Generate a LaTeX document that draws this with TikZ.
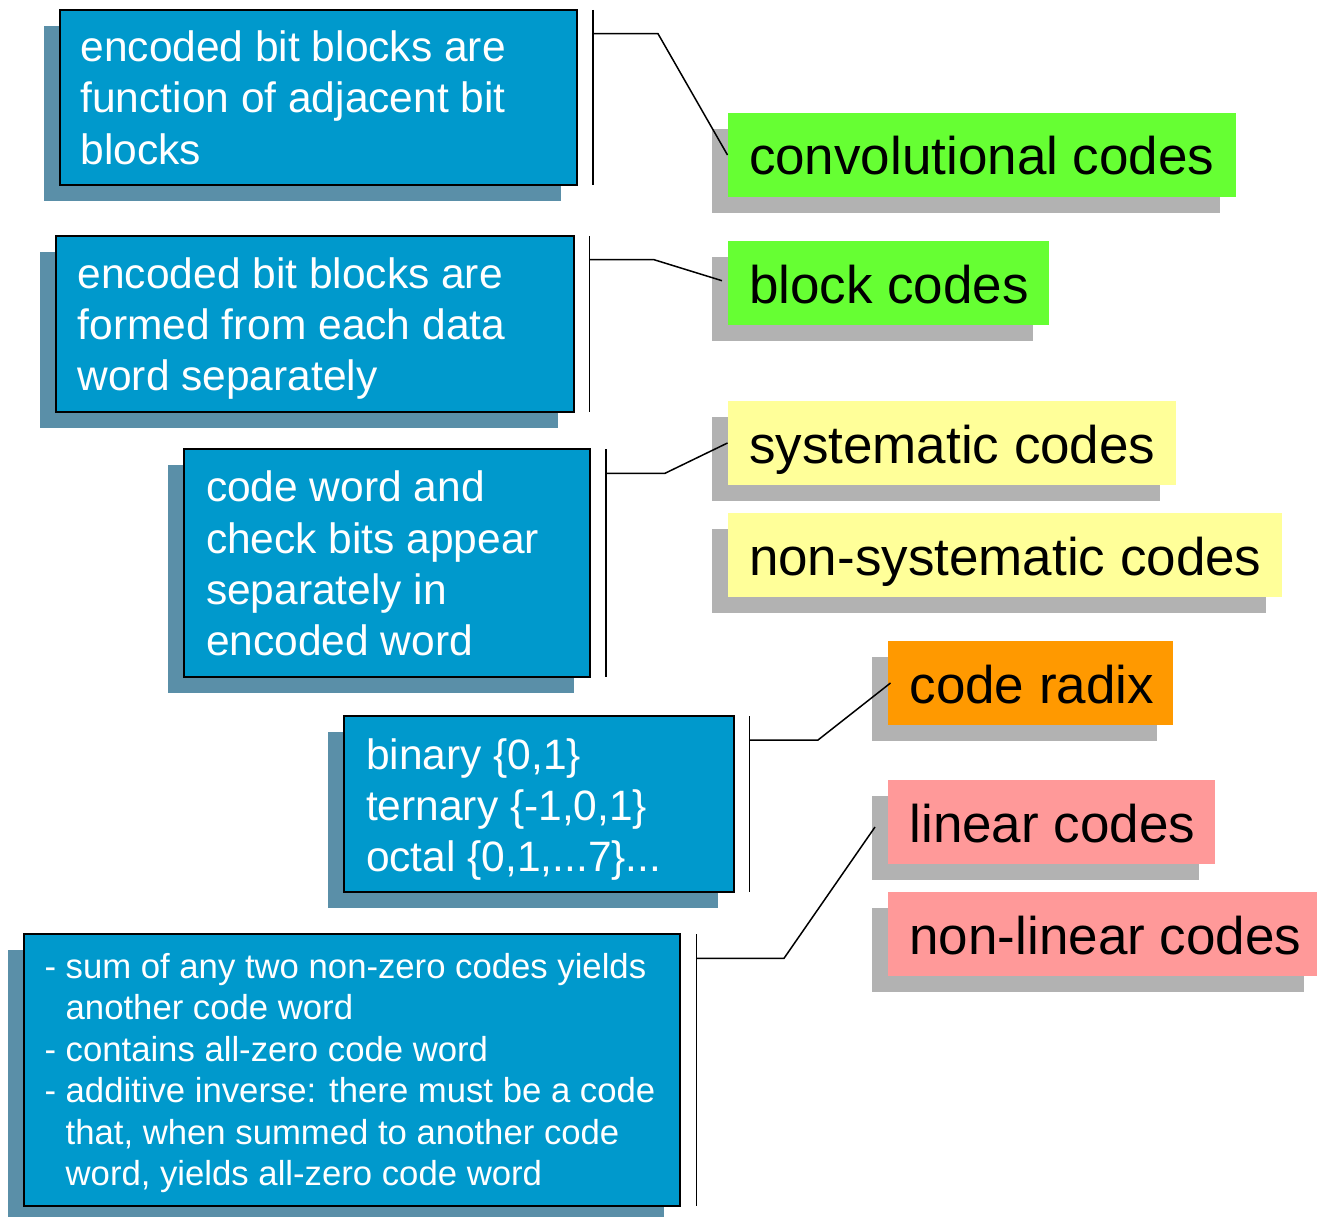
\documentclass[tikz,border=0pt]{standalone}
\usepackage{fontspec}
\setmainfont{Liberation Sans}
\usetikzlibrary{shadows}
\definecolor{boxblue}{HTML}{0099CC}
\definecolor{shblue}{HTML}{5A8FA8}
\definecolor{shgray}{HTML}{B2B2B2}
\definecolor{lgreen}{HTML}{66FF33}
\definecolor{lyellow}{HTML}{FFFF99}
\definecolor{lorange}{HTML}{FF9900}
\definecolor{lpink}{HTML}{FF9999}
\tikzset{
  infobox/.style={draw=black, line width=2pt, fill=boxblue, text=white, anchor=north west,
    inner ysep=0pt, outer sep=0pt,
    general shadow={shadow xshift=-16pt, shadow yshift=-16pt, fill=shblue}},
  labelbox/.style={fill=#1, draw=none, text=black, anchor=north west, inner ysep=0pt,
    inner xsep=21.5pt, outer sep=0pt, text height=62pt, text depth=22pt,
    font=\fontsize{53}{60}\selectfont,
    general shadow={shadow xshift=-16pt, shadow yshift=-16pt, fill=shgray}},
  bracket/.style={draw=black, line width=1.5pt},
}
\newcommand{\bigtxt}{\fontsize{42.5}{51.3}\selectfont}
\newcommand{\smalltxt}{\fontsize{34.7}{41.5}\selectfont}
\begin{document}
\begin{tikzpicture}[x=1pt,y=-1pt]
\useasboundingbox (0,0) rectangle (1317,1217);

% info boxes
\node[infobox, inner xsep=20.5pt, text height=51.7pt, text depth=123.3pt] (b1) at (60,10)
  {\parbox[t]{476pt}{\bigtxt\mbox{encoded bit blocks are}\\\mbox{function of adjacent bit}\\\mbox{blocks}}};
\node[infobox, inner xsep=21.6pt, text height=52.3pt, text depth=123.7pt] (b2) at (56,236)
  {\parbox[t]{474.8pt}{\bigtxt\mbox{encoded bit blocks are}\\\mbox{formed from each data}\\\mbox{word separately}}};
\node[infobox, inner xsep=22pt, text height=52.7pt, text depth=175.3pt] (b3) at (184,449)
  {\parbox[t]{362pt}{\bigtxt\mbox{code word and}\\\mbox{check bits appear}\\\mbox{separately in}\\\mbox{encoded word}}};
\node[infobox, inner xsep=22pt, text height=53.3pt, text depth=122.7pt] (b4) at (344,716)
  {\parbox[t]{346pt}{\bigtxt\mbox{binary \{0,1\}}\\\mbox{ternary \{-1,0,1\}}\\\mbox{octal \{0,1,...7\}...}}};
\node[infobox, inner xsep=20.5pt, text height=44.3pt, text depth=227.7pt] (b5) at (24,934)
  {\parbox[t]{615pt}{\smalltxt\mbox{- sum of any two non-zero codes yields}\\\mbox{\hphantom{- }another code word}\\\mbox{- contains all-zero code word}\\\mbox{- additive inverse: there must be a code}\\\mbox{\hphantom{- }that, when summed to another code}\\\mbox{\hphantom{- }word, yields all-zero code word}}};

% label boxes
\node[labelbox=lgreen] (conv) at (727.5,113) {\makebox[465.5pt][l]{convolutional codes}};
\node[labelbox=lgreen] (block) at (727.5,241) {\makebox[278.5pt][l]{block codes}};
\node[labelbox=lyellow] (sys) at (727.5,401) {\makebox[405.5pt][l]{systematic codes}};
\node[labelbox=lyellow] (nsys) at (727.5,513) {\makebox[511.5pt][l]{non-systematic codes}};
\node[labelbox=lorange] (radix) at (888,641) {\makebox[241.6pt][l]{code radix}};
\node[labelbox=lpink] (lin) at (888,780) {\makebox[284pt][l]{linear codes}};
\node[labelbox=lpink] (nlin) at (888,892) {\makebox[389pt][l]{non-linear codes}};

% brackets and connectors
\coordinate (s1) at (593,33.7);  \coordinate (k1) at (658,33.7);
\coordinate (s2) at (589.5,259.7); \coordinate (k2) at (654,259.7);
\coordinate (s3) at (606,473.3); \coordinate (k3) at (665,473.3);
\coordinate (s4) at (749.3,740); \coordinate (k4) at (818,740);
\coordinate (s5) at (696.5,958.3); \coordinate (k5) at (784,958.3);

\draw[bracket] (b1.north east -| s1) -- (b1.south east -| s1);
\draw[bracket] (s1) -- (k1) -- (conv.west);
\draw[bracket] (b2.north east -| s2) -- (b2.south east -| s2);
\draw[bracket] (s2) -- (k2) -- ([xshift=-5.5pt,yshift=2.3pt]block.west);
\draw[bracket] (b3.north east -| s3) -- (b3.south east -| s3);
\draw[bracket] (s3) -- (k3) -- (sys.west);
\draw[bracket] (b4.north east -| s4) -- (b4.south east -| s4);
\draw[bracket] (s4) -- (k4) -- ([xshift=2.5pt]radix.west);
\draw[bracket] (b5.north east -| s5) -- (b5.south east -| s5);
\draw[bracket] (s5) -- (k5) -- ([xshift=-13pt,yshift=-5pt]lin.west);
\end{tikzpicture}
\end{document}
